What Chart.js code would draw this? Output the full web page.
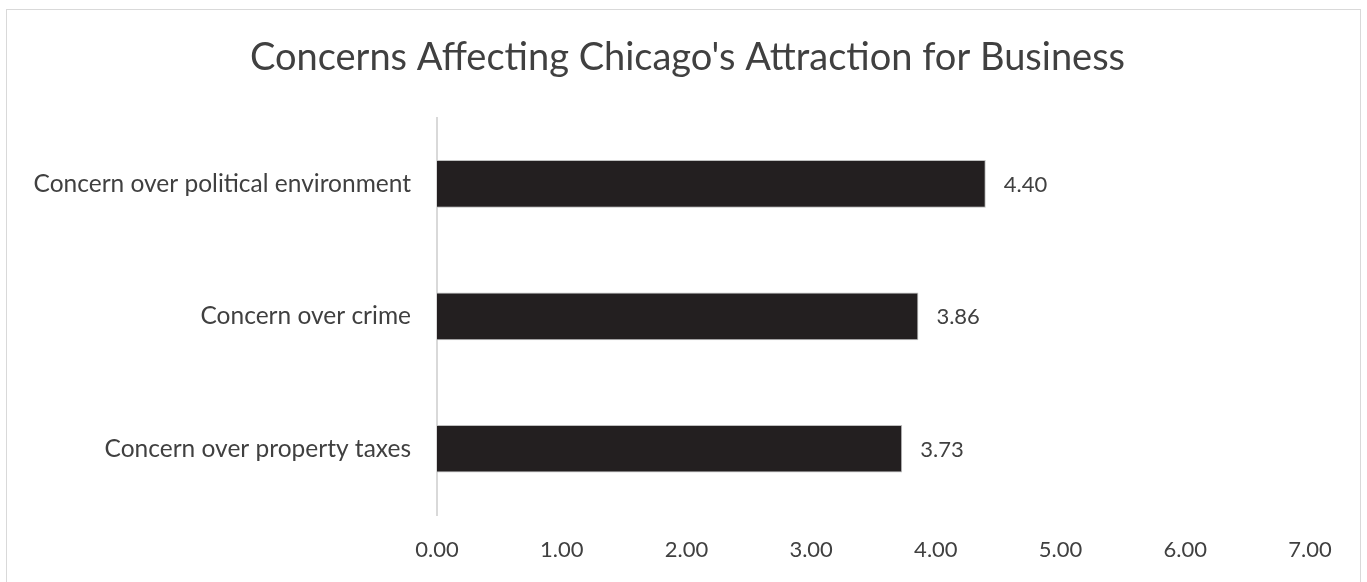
<!DOCTYPE html>
<html>
<head>
<meta charset="utf-8">
<script src="https://cdn.jsdelivr.net/npm/chart.js@4/dist/chart.umd.min.js"></script>
<style>
  html, body { margin: 0; padding: 0; background: #fff; overflow: hidden; }
  #frame { position: absolute; left: 6px; top: 9px; width: 1353px; height: 600px; border: 1px solid #d9d9d9; }
  #chart { position: absolute; left: 0; top: 0; }
</style>
</head>
<body>
<div id="frame"></div>
<canvas id="chart" width="1367" height="582"></canvas>
<script>
  // Chart data.
  const categories = ['Concern over political environment', 'Concern over crime', 'Concern over property taxes'];
  const scores = [4.40, 3.86, 3.73];
  const xTicks = [0, 1, 2, 3, 4, 5, 6, 7];

  const textColor = '#404040';
  const fontFamily = 'Lato, "Noto Sans", sans-serif';

  // Value labels at bar ends.
  const valueLabels = {
    id: 'valueLabels',
    afterDatasetsDraw: function (chart) {
      const ctx = chart.ctx;
      const meta = chart.getDatasetMeta(0);
      ctx.save();
      ctx.font = '22px ' + fontFamily;
      ctx.fillStyle = textColor;
      ctx.textAlign = 'left';
      ctx.textBaseline = 'middle';
      meta.data.forEach(function (bar, i) {
        ctx.fillText(scores[i].toFixed(2), bar.x + 18, bar.y + 1);
      });
      ctx.restore();
    }
  };

  // Center the title over the frame, not the padded area.
  const centerTitle = {
    id: 'centerTitle',
    afterLayout: function (chart) {
      if (chart.titleBlock) {
        chart.titleBlock.left = 65;
      }
    }
  };

  const ctx = document.getElementById('chart').getContext('2d');
  new Chart(ctx, {
    type: 'bar',
    plugins: [valueLabels, centerTitle],
    data: {
      labels: categories,
      datasets: [{
        data: scores,
        backgroundColor: '#231f20',
        borderColor: '#bfbfbf',
        borderWidth: 1,
        borderSkipped: 'left',
        categoryPercentage: 1,
        barPercentage: 0.36
      }]
    },
    options: {
      indexAxis: 'y',
      responsive: false,
      animation: false,
      layout: { padding: { left: 8, right: 57, top: 0, bottom: 0 } },
      plugins: {
        legend: { display: false },
        tooltip: { enabled: false },
        title: {
          display: true,
          text: "Concerns Affecting Chicago's Attraction for Business",
          color: textColor,
          font: { family: fontFamily, size: 38, weight: 'normal' },
          padding: { top: 35, bottom: 37 }
        }
      },
      scales: {
        x: {
          min: xTicks[0],
          max: xTicks[xTicks.length - 1],
          afterBuildTicks: function (scale) {
            scale.ticks = xTicks.map(function (v) { return { value: v }; });
          },
          afterFit: function (scale) { scale.height = 67; },
          grid: { display: false, drawTicks: false },
          border: { display: false },
          ticks: {
            padding: 22,
            color: textColor,
            font: { family: fontFamily, size: 22 },
            callback: function (v) { return Number(v).toFixed(2); }
          }
        },
        y: {
          afterFit: function (scale) { scale.width = 429; },
          grid: { display: false, drawTicks: false },
          border: { display: true, color: '#d9d9d9', width: 2 },
          ticks: {
            padding: 26,
            color: textColor,
            font: { family: fontFamily, size: 24.5 }
          }
        }
      }
    }
  });
</script>
</body>
</html>
